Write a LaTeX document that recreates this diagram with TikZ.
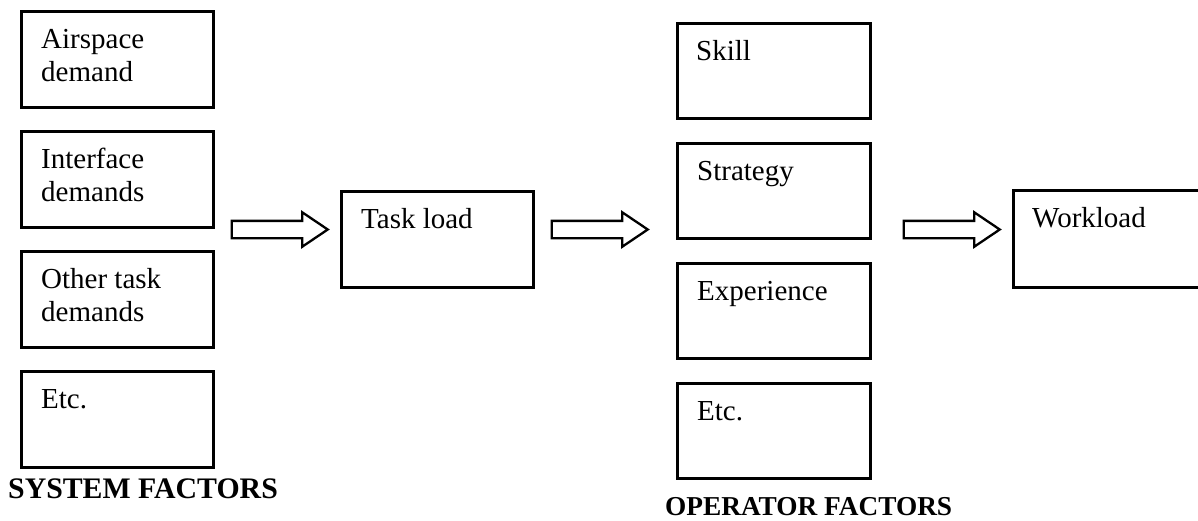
\documentclass[tikz,border=0pt]{standalone}
\usepackage{fontspec}
\setmainfont{Liberation Serif}
\usetikzlibrary{shapes.arrows,positioning}
\newcommand\mystrut{\rule{0pt}{21pt}}
\begin{document}
\begin{tikzpicture}[x=1pt,y=-1pt,
  box/.style={draw=black, line width=2.6pt, rectangle, minimum width=192pt, minimum height=96pt, inner sep=0pt, anchor=north west},
  txt/.style={font=\fontsize{29}{33}\selectfont, align=left, inner sep=0pt, anchor=north west},
  head/.style={font=\fontsize{29.8}{33}\selectfont\bfseries, inner sep=0pt, anchor=base west},
  barrow/.style={draw=black, line width=2.3pt, single arrow, inner sep=0pt, text height=15pt, text depth=0pt, text width=0pt,
     minimum height=96pt, minimum width=32pt, single arrow head extend=8.5pt, single arrow tip angle=68, anchor=tail}
]
\useasboundingbox (0,0) rectangle (1198,520);
\clip (0,0) rectangle (1198,520);
% system factor boxes
\node[box] (a1) at (20,10) {};
\node[box] (a2) at (20,130) {};
\node[box] (a3) at (20,250) {};
\node[box] (a4) at (20,370) {};
\node[txt] (a1t) at ([shift={(21,17)}]a1.north west) {\mystrut Airspace\\demand};
\node[txt] (a2t) at ([shift={(21,17)}]a2.north west) {\mystrut Interface\\demands};
\node[txt] (a3t) at ([shift={(21,17)}]a3.north west) {\mystrut Other task\\demands};
\node[txt] (a4t) at ([shift={(21,17)}]a4.north west) {\mystrut Etc.};
\node[head] (sys) at (8,498) {SYSTEM FACTORS};
% task load
\node[box] (tl) at (340,190) {};
\node[txt] (tlt) at ([shift={(21,17)}]tl.north west) {\mystrut Task load};
% operator factor boxes
\node[box, minimum width=193pt, minimum height=95pt] (o1) at (676,22) {};
\node[box, minimum width=193pt, minimum height=95pt] (o2) at (676,142) {};
\node[box, minimum width=193pt, minimum height=95pt] (o3) at (676,262) {};
\node[box, minimum width=193pt, minimum height=95pt] (o4) at (676,382) {};
\node[txt] (o1t) at ([shift={(20,17)}]o1.north west) {\mystrut Skill};
\node[txt] (o2t) at ([shift={(21,17)}]o2.north west) {\mystrut Strategy};
\node[txt] (o3t) at ([shift={(21,17)}]o3.north west) {\mystrut Experience};
\node[txt] (o4t) at ([shift={(21,17)}]o4.north west) {\mystrut Etc.};
\node[head, font=\fontsize{27.3}{33}\selectfont\bfseries] (op) at (665,515) {OPERATOR FACTORS};
% workload
\node[box, minimum height=97pt] (wl) at (1012,189) {};
\node[txt] (wlt) at ([shift={(20,17)}]wl.north west) {\mystrut Workload};
% block arrows
\node[barrow] (ar1) at ([xshift=16pt]a2.east |- 0,229.5) {};
\node[barrow] (ar2) at ([xshift=16pt]tl.east |- 0,229.5) {};
\node[barrow] (ar3) at ([xshift=31pt]o2.east |- 0,229.5) {};
\end{tikzpicture}
\end{document}
